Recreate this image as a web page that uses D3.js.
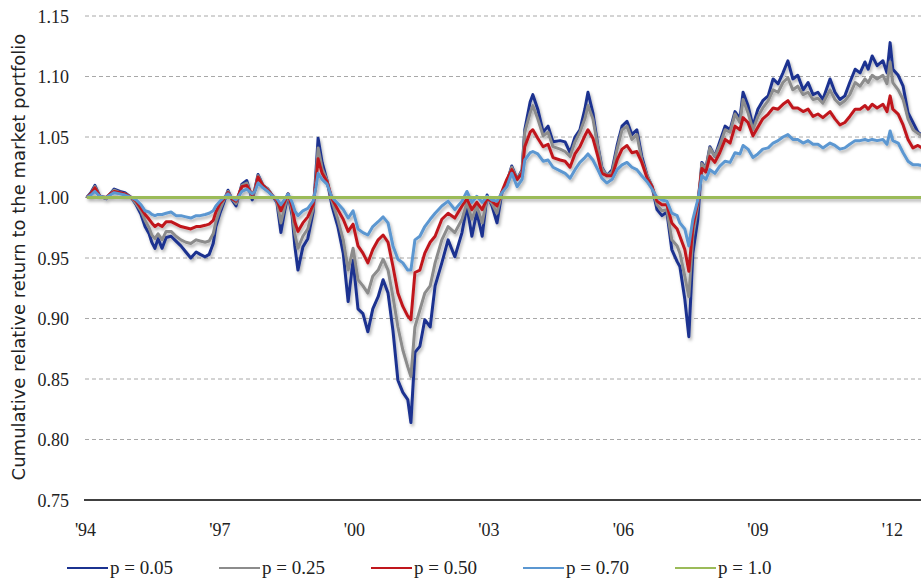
<!DOCTYPE html>
<html>
<head>
<meta charset="utf-8">
<script src="https://cdn.jsdelivr.net/npm/d3@7"></script>
<style>
  html, body { margin: 0; padding: 0; background: #ffffff; overflow: hidden; }
  svg { display: block; }
  .serif { font-family: "Liberation Serif", "DejaVu Serif", "Times New Roman", serif; }
  .sans { font-family: "DejaVu Sans", Verdana, sans-serif; }
</style>
</head>
<body>
<div id="chart"></div>
<script>
// ---------------- DATA ----------------
const years = [
  1994.04, 1994.13, 1994.22, 1994.33, 1994.47, 1994.56, 1994.65, 1994.78, 1994.89, 1995.03,
  1995.14, 1995.25, 1995.34, 1995.43, 1995.49, 1995.56, 1995.63, 1995.72, 1995.81, 1995.92,
  1996.03, 1996.14, 1996.25, 1996.36, 1996.48, 1996.57, 1996.68, 1996.77, 1996.86, 1996.92,
  1997.01, 1997.10, 1997.19, 1997.28, 1997.37, 1997.50, 1997.61, 1997.73, 1997.79, 1997.86,
  1997.97, 1998.08, 1998.19, 1998.28, 1998.37, 1998.46, 1998.53, 1998.62, 1998.68, 1998.75,
  1998.86, 1998.97, 1999.09, 1999.15, 1999.20, 1999.29, 1999.40, 1999.51, 1999.64, 1999.76,
  1999.87, 1999.98, 2000.09, 2000.20, 2000.31, 2000.42, 2000.54, 2000.65, 2000.76, 2000.87,
  2000.98, 2001.09, 2001.20, 2001.27, 2001.36, 2001.47, 2001.58, 2001.70, 2001.81, 2001.96,
  2002.10, 2002.25, 2002.41, 2002.52, 2002.63, 2002.74, 2002.86, 2002.97, 2003.08, 2003.19,
  2003.30, 2003.41, 2003.52, 2003.64, 2003.75, 2003.81, 2003.93, 2003.99, 2004.10, 2004.22,
  2004.33, 2004.44, 2004.60, 2004.71, 2004.82, 2004.93, 2005.04, 2005.15, 2005.22, 2005.33,
  2005.44, 2005.53, 2005.64, 2005.76, 2005.87, 2005.98, 2006.09, 2006.20, 2006.31, 2006.42,
  2006.54, 2006.65, 2006.76, 2006.87, 2006.98, 2007.09, 2007.21, 2007.27, 2007.38, 2007.47,
  2007.56, 2007.67, 2007.76, 2007.85, 2007.94, 2008.05, 2008.16, 2008.28, 2008.39, 2008.50,
  2008.61, 2008.68, 2008.79, 2008.90, 2009.01, 2009.12, 2009.24, 2009.35, 2009.46, 2009.57,
  2009.68, 2009.79, 2009.90, 2010.02, 2010.13, 2010.24, 2010.35, 2010.46, 2010.62, 2010.73,
  2010.84, 2010.95, 2011.06, 2011.18, 2011.29, 2011.40, 2011.47, 2011.56, 2011.67, 2011.80,
  2011.89, 2011.96, 2012.02, 2012.14, 2012.25, 2012.36, 2012.47, 2012.58, 2012.72
];

const p005 = [
  1.000, 1.004, 1.010, 1.001, 0.999, 1.003, 1.007, 1.005, 1.004, 1.000,
  0.994, 0.986, 0.976, 0.970, 0.963, 0.958, 0.966, 0.958, 0.967, 0.968,
  0.964, 0.960, 0.955, 0.950, 0.955, 0.953, 0.951, 0.953, 0.962, 0.976,
  0.987, 0.996, 1.006, 0.998, 0.993, 1.011, 1.014, 0.998, 1.007, 1.019,
  1.010, 1.007, 1.001, 0.996, 0.971, 0.990, 1.003, 0.985, 0.960, 0.940,
  0.959, 0.966, 0.988, 1.020, 1.049, 1.029, 1.014, 0.993, 0.976, 0.954,
  0.914, 0.948, 0.908, 0.904, 0.889, 0.908, 0.918, 0.932, 0.921, 0.890,
  0.849, 0.839, 0.833, 0.814, 0.872, 0.877, 0.899, 0.893, 0.927, 0.946,
  0.965, 0.951, 0.971, 0.993, 0.968, 0.988, 0.968, 1.002, 0.993, 0.979,
  1.004, 1.012, 1.026, 1.015, 1.023, 1.056, 1.079, 1.085, 1.073, 1.054,
  1.059, 1.046, 1.047, 1.046, 1.037, 1.050, 1.056, 1.073, 1.087, 1.070,
  1.043, 1.025, 1.018, 1.023, 1.043, 1.059, 1.063, 1.052, 1.056, 1.034,
  1.018, 1.009, 0.990, 0.985, 0.988, 0.957, 0.947, 0.943, 0.916, 0.885,
  0.954, 0.982, 1.029, 1.024, 1.042, 1.034, 1.046, 1.059, 1.056, 1.071,
  1.065, 1.087, 1.076, 1.059, 1.073, 1.080, 1.084, 1.098, 1.094, 1.103,
  1.113, 1.098, 1.101, 1.089, 1.095, 1.085, 1.087, 1.081, 1.098, 1.087,
  1.081, 1.084, 1.095, 1.106, 1.103, 1.112, 1.106, 1.117, 1.109, 1.113,
  1.103, 1.128, 1.106, 1.101, 1.092, 1.070, 1.062, 1.054, 1.050
];

const p025 = [
  1.000, 1.003, 1.009, 1.001, 0.999, 1.003, 1.006, 1.004, 1.003, 1.000,
  0.995, 0.989, 0.981, 0.975, 0.969, 0.966, 0.970, 0.965, 0.972, 0.972,
  0.968, 0.965, 0.963, 0.962, 0.965, 0.964, 0.963, 0.964, 0.970, 0.980,
  0.990, 0.998, 1.005, 0.999, 0.995, 1.010, 1.012, 1.000, 1.007, 1.018,
  1.010, 1.007, 1.001, 0.997, 0.979, 0.993, 1.003, 0.988, 0.970, 0.958,
  0.968, 0.974, 0.991, 1.015, 1.041, 1.024, 1.014, 0.997, 0.982, 0.965,
  0.940, 0.958, 0.932, 0.927, 0.921, 0.935, 0.940, 0.949, 0.940, 0.918,
  0.893, 0.874, 0.860, 0.852, 0.893, 0.907, 0.921, 0.927, 0.946, 0.965,
  0.976, 0.971, 0.982, 0.996, 0.982, 0.993, 0.979, 1.000, 0.995, 0.987,
  1.004, 1.013, 1.025, 1.015, 1.022, 1.054, 1.070, 1.076, 1.065, 1.051,
  1.054, 1.042, 1.040, 1.038, 1.034, 1.046, 1.054, 1.065, 1.076, 1.065,
  1.042, 1.024, 1.018, 1.021, 1.040, 1.056, 1.059, 1.048, 1.052, 1.031,
  1.018, 1.009, 0.994, 0.989, 0.990, 0.965, 0.960, 0.954, 0.935, 0.918,
  0.968, 0.993, 1.028, 1.024, 1.041, 1.034, 1.043, 1.056, 1.054, 1.069,
  1.062, 1.081, 1.070, 1.056, 1.067, 1.074, 1.080, 1.089, 1.087, 1.095,
  1.099, 1.089, 1.092, 1.085, 1.087, 1.081, 1.082, 1.078, 1.089, 1.081,
  1.077, 1.080, 1.085, 1.095, 1.092, 1.098, 1.095, 1.101, 1.098, 1.101,
  1.094, 1.112, 1.095, 1.089, 1.081, 1.065, 1.056, 1.053, 1.050
];

const p050 = [
  1.000, 1.003, 1.008, 1.001, 1.000, 1.003, 1.005, 1.004, 1.003, 1.000,
  0.997, 0.991, 0.986, 0.982, 0.979, 0.976, 0.978, 0.976, 0.980, 0.980,
  0.978, 0.976, 0.975, 0.974, 0.976, 0.976, 0.977, 0.978, 0.981, 0.988,
  0.995, 0.999, 1.004, 0.999, 0.997, 1.009, 1.010, 1.002, 1.006, 1.017,
  1.010, 1.006, 1.001, 0.998, 0.989, 0.997, 1.003, 0.992, 0.980, 0.972,
  0.979, 0.984, 0.994, 1.012, 1.032, 1.020, 1.013, 0.999, 0.990, 0.982,
  0.972, 0.978, 0.960, 0.954, 0.946, 0.957, 0.965, 0.969, 0.963, 0.943,
  0.921, 0.910, 0.902, 0.899, 0.938, 0.940, 0.954, 0.963, 0.968, 0.982,
  0.987, 0.983, 0.993, 0.999, 0.990, 0.996, 0.990, 0.999, 0.997, 0.993,
  1.005, 1.015, 1.023, 1.015, 1.020, 1.042, 1.054, 1.056, 1.049, 1.042,
  1.044, 1.033, 1.031, 1.030, 1.025, 1.036, 1.042, 1.051, 1.056, 1.049,
  1.034, 1.020, 1.018, 1.018, 1.031, 1.040, 1.043, 1.037, 1.038, 1.029,
  1.016, 1.009, 0.997, 0.994, 0.994, 0.979, 0.974, 0.968, 0.957, 0.939,
  0.976, 0.996, 1.024, 1.021, 1.034, 1.029, 1.037, 1.048, 1.045, 1.059,
  1.056, 1.066, 1.062, 1.051, 1.058, 1.065, 1.069, 1.074, 1.073, 1.077,
  1.080, 1.074, 1.074, 1.071, 1.073, 1.067, 1.069, 1.066, 1.071, 1.065,
  1.060, 1.062, 1.067, 1.073, 1.073, 1.076, 1.073, 1.077, 1.074, 1.077,
  1.071, 1.084, 1.073, 1.069, 1.060, 1.048, 1.041, 1.043, 1.040
];

const p070 = [
  1.000, 1.002, 1.005, 1.001, 1.000, 1.002, 1.004, 1.003, 1.002, 1.000,
  0.998, 0.994, 0.989, 0.988, 0.986, 0.985, 0.986, 0.986, 0.987, 0.988,
  0.985, 0.985, 0.984, 0.983, 0.985, 0.985, 0.986, 0.987, 0.989, 0.993,
  0.997, 1.000, 1.003, 1.000, 0.998, 1.005, 1.007, 1.003, 1.005, 1.012,
  1.008, 1.005, 1.001, 0.999, 0.994, 0.999, 1.003, 0.996, 0.989, 0.985,
  0.989, 0.991, 0.997, 1.008, 1.020, 1.015, 1.011, 1.000, 0.995, 0.990,
  0.983, 0.989, 0.974, 0.971, 0.969, 0.976, 0.980, 0.984, 0.979, 0.960,
  0.949, 0.946, 0.940, 0.940, 0.965, 0.968, 0.976, 0.982, 0.987, 0.993,
  0.997, 0.990, 0.997, 1.005, 0.996, 1.001, 0.996, 1.001, 0.998, 0.997,
  1.004, 1.009, 1.020, 1.009, 1.015, 1.031, 1.037, 1.038, 1.036, 1.030,
  1.031, 1.025, 1.022, 1.020, 1.016, 1.023, 1.029, 1.033, 1.036, 1.031,
  1.023, 1.016, 1.012, 1.015, 1.023, 1.027, 1.029, 1.025, 1.023, 1.018,
  1.013, 1.007, 1.000, 0.998, 0.997, 0.987, 0.985, 0.979, 0.974, 0.960,
  0.982, 0.998, 1.018, 1.015, 1.023, 1.020, 1.026, 1.030, 1.029, 1.037,
  1.036, 1.043, 1.040, 1.033, 1.036, 1.040, 1.041, 1.045, 1.047, 1.050,
  1.052, 1.048, 1.048, 1.045, 1.047, 1.044, 1.044, 1.041, 1.045, 1.043,
  1.040, 1.041, 1.044, 1.047, 1.047, 1.048, 1.047, 1.048, 1.047, 1.048,
  1.044, 1.055, 1.047, 1.045, 1.037, 1.030, 1.027, 1.027, 1.026
];

const p100Years = [1994.04, 2012.72];
const p100 = [1.0, 1.0];

const yTicks = [0.75, 0.80, 0.85, 0.90, 0.95, 1.00, 1.05, 1.10, 1.15];
const xTicks = [1994, 1997, 2000, 2003, 2006, 2009, 2012];
const xTickLabels = ["'94", "'97", "'00", "'03", "'06", "'09", "'12"];

const seriesNames = ["p = 0.05", "p = 0.25", "p = 0.50", "p = 0.70", "p = 1.0"];
const seriesColors = ["#1b3290", "#8c8c8c", "#c0171d", "#5b97d1", "#9bbb59"];

// ---------------- CHART ----------------
const W = 921, H = 581;
const svg = d3.select("#chart").append("svg")
  .attr("width", W).attr("height", H);

const x = d3.scaleLinear().domain([1994, 2012]).range([85, 891.9]);
const y = d3.scaleLinear().domain([0.75, 1.15]).range([500, 16]);

const defs = svg.append("defs");
const f = defs.append("filter").attr("id", "shadow")
  .attr("x", "-5%").attr("y", "-5%").attr("width", "110%").attr("height", "120%");
f.append("feDropShadow").attr("dx", 1.5).attr("dy", 2.5)
  .attr("stdDeviation", 1.6).attr("flood-color", "#000").attr("flood-opacity", 0.3);

// gridlines
svg.append("g").selectAll("line")
  .data(yTicks.filter(v => v > 0.75))
  .join("line")
  .attr("x1", 85).attr("x2", W)
  .attr("y1", d => y(d)).attr("y2", d => y(d))
  .attr("stroke", "#a8a8a8").attr("stroke-width", 1)
  .attr("stroke-dasharray", "4,3");

// y tick labels
const yAxis = d3.axisLeft(y).tickValues(yTicks).tickFormat(d3.format(".2f")).tickSize(0).tickPadding(0);
const gy = svg.append("g").attr("transform", "translate(69,0)").call(yAxis)
  .attr("font-family", null).attr("font-size", null);
gy.select(".domain").remove();
gy.selectAll("text")
  .attr("class", "serif")
  .style("font-size", "18px").attr("fill", "#222").attr("dy", "0.35em");

// x axis
const xAxis = d3.axisBottom(x).tickValues(xTicks)
  .tickFormat((d, i) => xTickLabels[i]).tickSize(0).tickPadding(0);
const gx = svg.append("g").attr("transform", `translate(0,${y(0.75)})`).call(xAxis)
  .attr("font-family", null).attr("font-size", null);
gx.select(".domain").remove();
gx.selectAll("text")
  .attr("class", "serif")
  .style("font-size", "18px").attr("fill", "#222").attr("y", 36).attr("dy", 0);

svg.append("line")
  .attr("x1", 84).attr("x2", W)
  .attr("y1", y(0.75)).attr("y2", y(0.75))
  .attr("stroke", "#404040").attr("stroke-width", 2);

// lines
const line = d3.line().x(d => x(d[0])).y(d => y(d[1]));
const allSeries = [p005, p025, p050, p070].map(vals => years.map((yr, i) => [yr, vals[i]]));
allSeries.push(p100Years.map((yr, i) => [yr, p100[i]]));

svg.append("g").attr("filter", "url(#shadow)")
  .selectAll("path").data(allSeries).join("path")
  .attr("d", line)
  .attr("fill", "none")
  .attr("stroke", (d, i) => seriesColors[i])
  .attr("stroke-width", 3)
  .attr("stroke-linejoin", "round");

// y axis title
svg.append("text")
  .attr("class", "sans")
  .attr("transform", "translate(25,257) rotate(-90)")
  .attr("text-anchor", "middle")
  .style("font-size", "18px").attr("fill", "#222")
  .text("Cumulative relative return to the market portfolio");

// legend
const legend = svg.append("g").selectAll("g").data(seriesNames).join("g")
  .attr("transform", (d, i) => `translate(${67 + i * 152},568)`);
legend.append("line").attr("x1", 0).attr("x2", 41).attr("y1", 0).attr("y2", 0)
  .attr("stroke", (d, i) => seriesColors[i]).attr("stroke-width", 2);
legend.append("text").attr("class", "serif").attr("x", 43).attr("y", 6)
  .style("font-size", "19px").attr("fill", "#222")
  .text(d => d);
</script>
</body>
</html>
